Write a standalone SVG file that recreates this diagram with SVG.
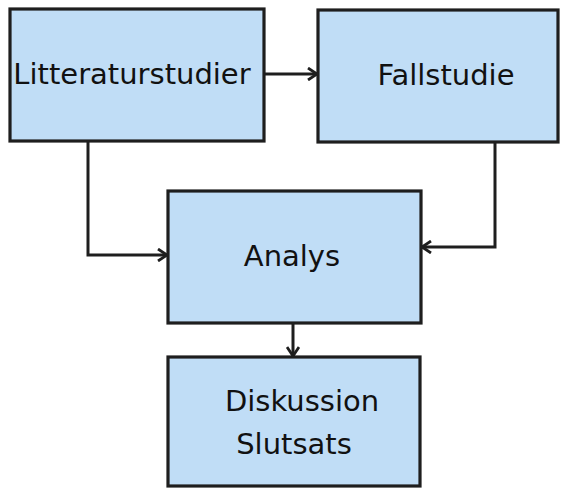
<svg xmlns="http://www.w3.org/2000/svg" width="568" height="488" viewBox="0 0 568 488">
<defs>
<style>
.box{fill:#c0ddf6;stroke:#1e1e1e;stroke-width:3.2}
.lbl{font-family:"DejaVu Sans",sans-serif;font-size:29px;fill:#111;text-anchor:middle}
.con{fill:none;stroke:#1e1e1e;stroke-width:3}
</style>
<marker id="arr" viewBox="0 0 14 14" refX="13" refY="7" markerWidth="14" markerHeight="14" markerUnits="userSpaceOnUse" orient="auto">
<path d="M4,1 L13,7 L4,13" fill="none" stroke="#1e1e1e" stroke-width="2.8"/>
</marker>
</defs>
<rect width="568" height="488" fill="#fff"/>
<g id="connectors">
<path class="con" d="M264,74 L317,74" marker-end="url(#arr)"/>
<path class="con" d="M88,142 L88,255 L167,255" marker-end="url(#arr)"/>
<path class="con" d="M495,142 L495,247 L422,247" marker-end="url(#arr)"/>
<path class="con" d="M293,324 L293,356" marker-end="url(#arr)"/>
</g>
<g id="n1"><rect class="box" x="10" y="9" width="254" height="132"/><text class="lbl" x="132" y="84">Litteraturstudier</text></g>
<g id="n2"><rect class="box" x="318" y="10" width="240" height="132"/><text class="lbl" x="446" y="85">Fallstudie</text></g>
<g id="n3"><rect class="box" x="168" y="191" width="253" height="132"/><text class="lbl" x="292" y="266">Analys</text></g>
<g id="n4"><rect class="box" x="168" y="357" width="252" height="129"/><text class="lbl" x="302" y="411">Diskussion</text><text class="lbl" x="294" y="454">Slutsats</text></g>
</svg>
